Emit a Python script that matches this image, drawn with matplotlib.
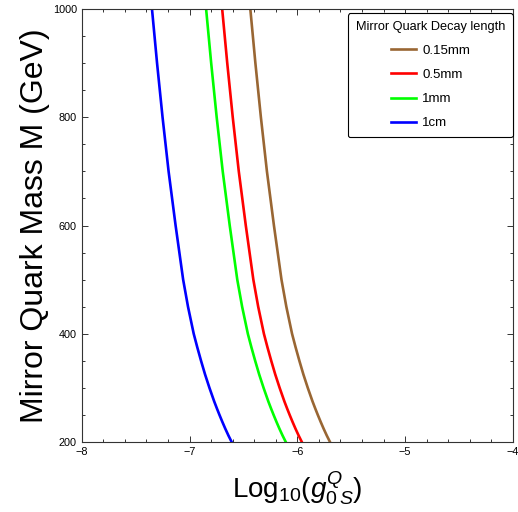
import matplotlib
matplotlib.use("Agg")
import matplotlib.pyplot as plt
from matplotlib.ticker import MultipleLocator

plt.rcParams['font.family'] = ['Liberation Sans', 'DejaVu Sans']
plt.rcParams['mathtext.fontset'] = 'custom'
plt.rcParams['mathtext.rm'] = 'Liberation Sans'
plt.rcParams['mathtext.it'] = 'Liberation Sans:italic'

# Mirror quark mass (GeV)
mass = [200, 212, 225, 237, 250, 262, 275, 300, 325, 350, 375, 400, 450,
        500, 600, 700, 800, 900, 1000]

# log10(g) for each decay length
g_1cm = [-6.609, -6.639, -6.669, -6.695, -6.722, -6.746, -6.771, -6.815, -6.856, -6.893,
         -6.928, -6.961, -7.014, -7.059, -7.129, -7.194, -7.250, -7.301, -7.348]
g_1mm = [-6.107, -6.137, -6.167, -6.193, -6.220, -6.244, -6.269, -6.313, -6.354, -6.391,
         -6.426, -6.459, -6.512, -6.557, -6.627, -6.692, -6.748, -6.799, -6.846]
g_05mm = [-5.958, -5.988, -6.018, -6.044, -6.071, -6.095, -6.120, -6.164, -6.205, -6.242,
          -6.277, -6.310, -6.363, -6.408, -6.478, -6.543, -6.599, -6.650, -6.697]
g_015mm = [-5.697, -5.727, -5.757, -5.783, -5.810, -5.834, -5.859, -5.903, -5.944, -5.981,
           -6.016, -6.049, -6.102, -6.147, -6.217, -6.282, -6.338, -6.389, -6.436]

labels = ['0.15mm', '0.5mm', '1mm', '1cm']
colors = ['#996633', '#FF0000', '#00FF00', '#0000FF']

fig = plt.figure(figsize=(5.18, 5.12), dpi=100)
ax = fig.add_axes([0.1577, 0.1367, 0.8326, 0.8457])

for xs, lab, col in zip([g_015mm, g_05mm, g_1mm, g_1cm], labels, colors):
    ax.plot(xs, mass, color=col, lw=1.9, label=lab)

ax.set_xlim(-8, -4)
ax.set_ylim(200, 1000)
ax.xaxis.set_major_locator(MultipleLocator(1))
ax.xaxis.set_minor_locator(MultipleLocator(0.2))
ax.yaxis.set_major_locator(MultipleLocator(200))
ax.yaxis.set_minor_locator(MultipleLocator(50))
ax.tick_params(which='both', direction='in', top=True, right=True,
               labelsize=7.8, width=0.7, color='#333333')
ax.tick_params(which='major', length=4.5)
ax.tick_params(which='minor', length=2.5)
for s in ax.spines.values():
    s.set_linewidth(0.8)
    s.set_color('#333333')

ax.set_ylabel('Mirror Quark Mass M (GeV)', fontsize=23, labelpad=2)
ax.set_xlabel(r'Log$_{10}$($g_{0\,S}^{Q}$)', fontsize=20, labelpad=9)

leg = ax.legend(loc='upper right', bbox_to_anchor=(1.0, 0.991), borderaxespad=0,
                title='Mirror Quark Decay length', title_fontsize=9.2,
                fontsize=9.5, frameon=True, fancybox=True, edgecolor='black',
                framealpha=1, handlelength=1.9, handletextpad=0.5,
                labelspacing=0.9, borderpad=0.6)
leg.get_frame().set_linewidth(0.8)

fig.savefig('out.png', dpi=100)
